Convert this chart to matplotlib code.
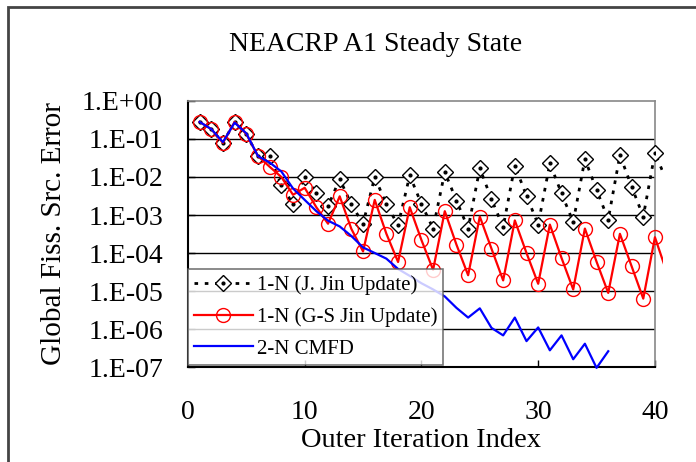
import numpy as np
import matplotlib
matplotlib.use("Agg")
import matplotlib.pyplot as plt
from matplotlib.patches import Rectangle
from matplotlib.ticker import FixedLocator, FuncFormatter

# outer iteration index
iters = list(range(1, 42))
cmfd_iters = list(range(1, 37))

# 1-N with J. Jin update
err_jin = [0.282, 0.182, 0.079, 0.282, 0.135, 0.0355, 0.0355, 6.3e-3, 1.9e-3, 1.0e-2,
           3.9e-3, 1.7e-3, 8.9e-3, 1.9e-3, 5.9e-4, 1.0e-2, 1.9e-3, 5.4e-4, 1.1e-2, 1.95e-3,
           4.4e-4, 1.35e-2, 2.4e-3, 4.4e-4, 1.7e-2, 2.6e-3, 4.8e-4, 2.0e-2, 3.2e-3, 5.6e-4,
           2.3e-2, 3.7e-3, 6.5e-4, 2.95e-2, 4.6e-3, 7.6e-4, 3.8e-2, 5.6e-3, 9.1e-4, 4.3e-2,
           7.9e-3]

# 1-N with G-S J. Jin update
err_gs = [0.282, 0.182, 0.079, 0.282, 0.135, 0.0355, 0.0186, 1.0e-2, 3.4e-3, 5.2e-3,
          1.6e-3, 5.9e-4, 3.1e-3, 4.3e-4, 1.1e-4, 2.5e-3, 3.2e-4, 5.8e-5, 1.6e-3, 2.2e-4,
          3.6e-5, 1.26e-3, 1.66e-4, 2.6e-5, 9.1e-4, 1.3e-4, 1.9e-5, 7.2e-4, 1.0e-4, 1.55e-5,
          5.6e-4, 7.4e-5, 1.1e-5, 4.4e-4, 5.9e-5, 8.9e-6, 3.2e-4, 4.5e-5, 6.3e-6, 2.6e-4,
          3.2e-5]

# 2-N CMFD
err_cmfd = [0.282, 0.182, 0.083, 0.27, 0.141, 0.0355, 0.024, 0.014, 5.0e-3, 2.5e-3,
            1.26e-3, 7.1e-4, 5.0e-4, 2.8e-4, 1.4e-4, 1.0e-4, 7.1e-5, 3.8e-5, 2.5e-5, 1.6e-5,
            1.1e-5, 7.2e-6, 3.6e-6, 2.0e-6, 3.5e-6, 1.07e-6, 6.8e-7, 2.0e-6, 4.8e-7, 1.1e-6,
            2.75e-7, 6.8e-7, 1.6e-7, 4.1e-7, 9.5e-8, 2.6e-7]

labels = ["1-N (J. Jin Update)", "1-N (G-S Jin Update)", "2-N CMFD"]
decades = [1e-7, 1e-6, 1e-5, 1e-4, 1e-3, 1e-2, 1e-1, 1e0]

plt.rcParams["font.family"] = ["Liberation Serif", "DejaVu Serif"]

fig = plt.figure(figsize=(6.96, 4.62), dpi=100)
ax = fig.add_axes([0.270, 0.2056, 0.671, 0.5758])

# outer frame of the chart area
fig.patches.append(Rectangle((8 / 696, -0.1), 1.2, 1.1 - 7 / 462, transform=fig.transFigure,
                             fill=False, edgecolor="#444444", linewidth=2))

clip = Rectangle((0, -0.05), 1.018, 1.1, transform=ax.transAxes)

l1, = ax.plot(iters, err_jin, color="black", linestyle=(0, (1.3, 2.4)), linewidth=2,
              marker="D", markersize=8, markerfacecolor="white", markeredgecolor="black",
              markeredgewidth=1, markevery=slice(0, 40), zorder=3)
l1b, = ax.plot(iters[:40], err_jin[:40], linestyle="none", marker="o", markersize=2,
               color="black", zorder=3.1)
l2, = ax.plot(iters, err_gs, color="red", linewidth=1.6, marker="o", markersize=10,
              markerfacecolor="none", markeredgecolor="red", markeredgewidth=1,
              markevery=slice(0, 40), zorder=4)
l3, = ax.plot(cmfd_iters, err_cmfd, color="blue", linewidth=1.6, zorder=5, clip_on=False)
l1.set_clip_path(clip)
l2.set_clip_path(clip)

ax.set_yscale("log")
ax.set_ylim(1e-7, 1e0)
ax.set_xlim(0, 40)
ax.yaxis.set_major_locator(FixedLocator(decades))
ax.yaxis.set_minor_locator(FixedLocator([]))
ax.yaxis.set_major_formatter(FuncFormatter(lambda v, p: "1.E%+03d" % int(round(np.log10(v)))))
ax.set_xticks([0, 10, 20, 30, 40])

for y in decades[1:-1]:
    ax.axhline(y, color="black", linewidth=1, zorder=1)

ax.tick_params(axis="both", direction="in", length=5, width=1, labelsize=20)
ax.tick_params(axis="y", pad=18)
ax.tick_params(axis="x", pad=24)
for s in ["left", "bottom"]:
    ax.spines[s].set_color("black")
    ax.spines[s].set_linewidth(1.5)
for s in ["top", "right"]:
    ax.spines[s].set_color("#888888")
    ax.spines[s].set_linewidth(1.2)

ax.set_xlabel("Outer Iteration Index", fontsize=20.5, labelpad=2)
ax.set_ylabel("Global Fiss. Src. Error", fontsize=21, labelpad=11)
fig.text(0.5395, 0.903, "NEACRP A1 Steady State", ha="center", va="center", fontsize=20)

leg = ax.legend([(l1, l1b), l2, l3], labels, loc="lower left", bbox_to_anchor=(0.0, 0.008),
                fontsize=15, frameon=True, fancybox=False, borderaxespad=0,
                handlelength=2.8, handletextpad=0.2, labelspacing=0.58, borderpad=0.3)
leg.get_frame().set_edgecolor("#555555")
leg.get_frame().set_linewidth(1.2)
leg.set_zorder(10)

fig.savefig("out.png", dpi=100)
